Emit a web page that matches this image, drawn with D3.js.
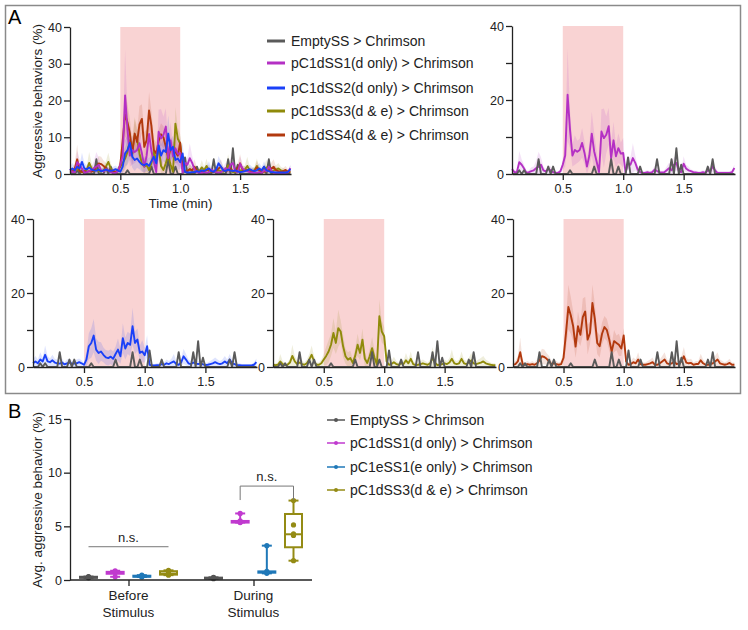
<!DOCTYPE html>
<html><head><meta charset="utf-8">
<script src="https://cdn.jsdelivr.net/npm/d3@7"></script>
<style>body{margin:0;background:#fff} svg{display:block;font-family:"Liberation Sans",Arial,Helvetica,sans-serif}</style>
</head><body><svg id="c" width="748" height="630"></svg>
<script>
// ---------- Panel A data (time in min, sampled every 0.02 min from 0.08) ----------
const tStart = 0.08, tStep = 0.02;
const xDomain = [0.08, 1.925];
const stimulus = [0.5, 1.0];
const yTicksA = [0, 10, 20, 30, 40];
const xTicksA = [0.5, 1.0, 1.5];

const namesA = ["EmptySS > Chrimson","pC1dSS1(d only) > Chrimson","pC1dSS2(d only) > Chrimson","pC1dSS3(d & e) > Chrimson","pC1dSS4(d & e) > Chrimson"];
const colorsA = ["#5a5a5a","#b430c4","#1a40f8","#8f8a0a","#b2390e"];

const emptySS = [0,0,0,1,0,1,0,0,0,0, 0,4,0,0,0,2,0,2,0,0, 0,0,0,0,1,0,0,0,0,0, 0,0,0,0,2,0,0,0,0,0,
 0,4,0,0,2,0,0,0,4.5,0, 0,0,0,2,0,0,0,0,0,0, 4,0,0,0,0,0,4,0,7,0, 2.5,0,0,0,0,0,0,0,0,0, 0,2,0,4,0,0,0,0,0,0, 0,0,0];
const dss1 = [1.3,0.5,0.5,3.2,2.5,1.5,0.3,0.5,0.8,1, 1.6,2,2.5,1,0.7,1.3,1,0.5,0.3,0.3, 0.7,2.5,5,21.4,12,5,6.5,6,6.5,8.4,
 5.7,2,5,10.9,6.1,3.4,0.5,11.5,9.7,10.6, 12.9,4.3,9.1,4.8,7,5.5,5.7,0.3,3,2.5, 4.3,3,1.2,0.5,0.3,0.3,0.5,0.3,0.5,1.2,
 0.8,0.5,0.4,0.5,1,1.6,1,2.5,3,0.8, 0.5,2.8,1.5,1,0.8,0.5,0.4,0.3,0.3,0.5, 0.3,1,0.8,2,1,0.3,0.3,0.3,0.3,0.3, 0.3,0.5,1.6];
const dss2 = [1,1.5,1,2,1.5,3.3,1.5,1.3,1.8,1.2, 1,0.9,1.2,0.7,1,1.2,0.9,0.9,1,1.3, 1,0.6,2,5.6,6.5,8.5,4.7,3.8,4.2,3.3,
 2.6,2.4,2.8,2.2,3.5,4.7,2.9,7.8,5,6.5, 6,11,6.5,7.4,3.8,4.2,3.2,5.6,0.6,0.4, 0.4,0.5,0.5,0.8,0.6,1,0.8,1.2,1.5,0.8,
 0.6,1.2,2.9,2,1,0.8,1.2,1,0.8,1, 0.7,0.5,0.6,0.8,1,1.3,1,0.8,1,1.5, 1,2,1,0.8,0.5,0.5,0.4,0.4,0.4,0.4, 0.4,0.6,1.3];
const dss3 = [0.6,0.5,0.6,1.5,0.8,0.5,0.6,1.2,3,1.5, 0.8,1.2,0.8,0.6,1,2,3.3,1.5,0.6,0.6, 1,2,3,4.2,6,9.2,6.5,10.5,9.6,5.6,
 2.9,2,2.4,1.1,3,6,3.8,7.4,2.2,1.1, 2.9,5.1,2.5,0.6,13.7,9.6,8.3,1.5,0.6,0.8, 1.3,0.8,0.6,1,0.8,1.8,1,2.2,0.8,0.5,
 0.6,0.8,1,0.8,0.6,1,2.4,1.2,0.5,0.6, 0.8,1,0.8,1.2,2.2,1,0.8,1,2.2,1, 0.8,1.2,1.8,1,0.8,1,1.2,1.5,1,0.8, 0.6,0.5,0.5];
const dss4 = [0.6,0.8,1.5,4,0.8,0.6,0.8,0.6,0.8,0.6, 1,1.8,2.9,2.7,2.2,1.5,0.8,1,0.8,0.6, 0.8,2.5,9,16.2,14,11,5.5,11,8.7,13.5,
 15,7.4,9.2,17.3,13,6.5,5.6,9,10.8,10, 7.4,4.2,7,6.5,6,5,8.5,1.5,0.6,0.8, 1.3,1,2,0.8,0.6,0.6,0.8,1,1.3,0.6,
 0.6,1,1.5,2,1,0.8,1,1.5,0.8,1, 1.5,2.9,1.2,1,1.1,0.6,0.8,0.8,1.8,1, 0.6,0.6,0.8,1,1.5,2,1,0.8,0.6,0.8, 1.1,0.6,0.6];

// SEM (error band half-widths)
const semEmpty = [];
const semDss1 = [1,0.5,0.5,3,1.5,1,0.5,0.5,1,1,2,4,2,1,0.5,1,1,0.5,0.5,0.5,0.5,
 1.5,3,12.5,5,3,4,3,3,4,3,2,3,6,5,3,1,6,8,5,5,4,5,3,4,3,4,
 0.5,1.5,2,4,2,1,0.5,0.5,0.5,0.5,0.5,0.5,1,1,0.5,0.5,0.5,1,1.5,1,2,2,1,0.5,2,1,1,0.5,0.5,0.5,0.5,0.5,0.5,0.5,1,1,1.5,1,0.5,0.5,0.5,0.5,0.5,0.5,0.5,1];
const semDss2 = [1,1.5,1,2,1,2.5,1.5,1,1.5,1,1,0.8,1,0.6,1,1,0.8,0.8,1,1,0.8,
 0.5,2,3.5,4,4.5,3,3,2.5,2,2,2,2,2,2,3,2,4,3,3,3,5,3,3,2,3,2,
 3,0.5,0.4,0.4,0.5,0.5,0.8,0.6,1,0.8,1,2,0.8,0.6,1,2,1.5,1,0.8,1,1,0.8,1,0.7,0.5,0.6,0.8,1,1.3,1,0.8,1,1.5,1,1.5,1,0.8,0.5,0.5,0.4,0.4,0.4,0.4,0.4,0.6,1];
const semDss3 = [0.6,0.5,0.6,2,0.8,0.5,0.6,1,3,1.5,1,2,1,0.6,1,1.5,2.5,1.5,0.6,0.6,1,
 1.5,2.5,3,3,4,3,5,3,3,2,2,2,1,2,3,2,3,2,1,2,3,2,0.6,4.5,3,2.5,
 1.5,0.6,0.8,1.5,0.8,0.6,1,0.8,2,1,2,0.8,0.5,0.6,0.8,1,0.8,0.6,1,3,1.2,0.5,0.6,0.8,1,0.8,1.2,2.5,1,0.8,1,2,1,0.8,1.2,2,1,0.8,1,1.2,1.5,1,0.8,0.6,0.5,0.5];
const semDss4 = [0.6,0.8,1.5,4,0.8,0.6,0.8,0.6,0.8,0.6,1,1.5,2,2,1.5,1.5,0.8,1,0.8,0.6,0.8,
 2,4,6,5,4,3,4,3,5,4,4,3,5,4,3,3,3,3,3,3,2,3,2,3,2,2,
 1.5,0.6,0.8,1.3,1,2,0.8,0.6,0.6,0.8,1,1.3,0.6,0.6,1,1.5,2,1,0.8,1,1.5,0.8,1,1.5,2.5,1.2,1,1.1,0.6,0.8,0.8,1.8,1,0.6,0.6,0.8,1,1.5,2,1,0.8,0.6,0.8,1.1,0.6,0.6];

// ---------- Panel B data ----------
const groupsB = ["Before|Stimulus","During|Stimulus"];
const namesB = ["EmptySS > Chrimson","pC1dSS1(d only) > Chrimson","pC1eSS1(e only) > Chrimson","pC1dSS3(d & e) > Chrimson"];
const colorsB = ["#555555","#c03acf","#1f78b8","#948b14"];
const boxMin = [[0.18,0.3,0.28,0.45],[0.12,5.35,0.62,1.8]];
const boxQ1  = [[0.2,0.58,0.3,0.5],[0.15,5.35,0.68,3.05]];
const boxMed = [[0.25,0.7,0.34,0.6],[0.18,5.42,0.75,4.26]];
const boxQ3  = [[0.3,0.76,0.4,0.82],[0.22,5.5,0.8,6.15]];
const boxMax = [[0.32,0.86,0.45,0.9],[0.25,6.2,3.2,7.4]];
const boxPts = [
  [[0.2,0.25,0.3,0.32],[0.3,0.7,0.75,0.86],[0.28,0.33,0.38,0.45],[0.45,0.55,0.65,0.8,0.9]],
  [[0.12,0.18,0.22,0.25],[5.35,5.4,5.5,6.2],[0.62,0.72,0.8,3.2],[1.8,4.15,4.3,5.13,7.4]]
];
const yTicksB = [0, 5, 10, 15];

// ---------- drawing ----------
const svg = d3.select("#c");
const FONT = 12.5;
const seriesA = [
  {v: emptySS, s: semEmpty, c: colorsA[0]},
  {v: dss1, s: semDss1, c: colorsA[1]},
  {v: dss2, s: semDss2, c: colorsA[2]},
  {v: dss3, s: semDss3, c: colorsA[3]},
  {v: dss4, s: semDss4, c: colorsA[4]}
];
const tOf = i => tStart + tStep * i;

// Panel A frame
svg.append("rect").attr("x",5.5).attr("y",5.5).attr("width",735).attr("height",388)
  .attr("fill","none").attr("stroke","#8a8a8a").attr("stroke-width",1.5);
svg.append("text").attr("x",8).attr("y",24).attr("font-size",20).text("A");
svg.append("text").attr("x",8).attr("y",418).attr("font-size",20).text("B");

const panels = [
  {x0:70, x1:291, yb:174, yt:27, order:[3,4,1,2], all:true, xlabel:true},
  {x0:512, x1:735, yb:174, yt:26, order:[1]},
  {x0:33, x1:257, yb:367, yt:219, order:[2]},
  {x0:273, x1:496, yb:367, yt:219, order:[3]},
  {x0:513, x1:735, yb:367, yt:219, order:[4]}
];

panels.forEach(p => {
  const x = d3.scaleLinear().domain(xDomain).range([p.x0, p.x1]);
  const y = d3.scaleLinear().domain([0, 40]).range([p.yb, p.yt]);
  const g = svg.append("g");
  g.append("rect").attr("x", x(stimulus[0])).attr("y", y(40))
    .attr("width", x(stimulus[1]) - x(stimulus[0])).attr("height", y(0) - y(40))
    .attr("fill", "#f9d3d3");
  const area = s => d3.area().x((d,i)=>x(tOf(i))).y0((d,i)=>y(Math.max(0, d - (s[i]||0)))).y1((d,i)=>y(d + (s[i]||0)));
  const line = d3.line().x((d,i)=>x(tOf(i))).y(d=>y(d));
  p.order.forEach(k => {
    const S = seriesA[k];
    g.append("path").datum(S.v).attr("d", area(S.s)).attr("fill", S.c).attr("opacity", 0.14);
  });
  const drawLine = k => {
    const S = seriesA[k];
    g.append("path").datum(S.v).attr("d", line).attr("fill","none")
      .attr("stroke", S.c).attr("stroke-width", 1.9).attr("stroke-linejoin","round");
  };
  if (p.all) { drawLine(0); p.order.forEach(drawLine); }
  else { p.order.forEach(drawLine); drawLine(0); }

  const ax = g.append("g").attr("transform", `translate(0,${p.yb})`)
    .call(d3.axisBottom(x).tickValues(xTicksA).tickFormat(d3.format(".1f")).tickSize(6).tickPadding(4).tickSizeOuter(0));
  const ay = g.append("g").attr("transform", `translate(${p.x0},0)`)
    .call(d3.axisLeft(y).tickValues(yTicksA).tickSize(6).tickPadding(2).tickSizeOuter(0)
      .tickFormat(d => p.all || d % 20 === 0 ? d : ""));
  [ax, ay].forEach(a => {
    a.selectAll("path,line").attr("stroke","#222").attr("stroke-width",1.3);
    a.selectAll("text").attr("fill","#222").attr("font-size",FONT).attr("font-family",null);
  });
  if (p.xlabel) {
    svg.append("text").attr("x", (p.x0 + p.x1)/2).attr("y", 208).attr("text-anchor","middle")
      .attr("font-size",13.5).attr("fill","#222").text("Time (min)");
  }
});
svg.append("text").attr("transform","translate(42,101) rotate(-90)").attr("text-anchor","middle")
  .attr("font-size",13.5).attr("fill","#222").text("Aggressive behaviors (%)");

// Legend A
namesA.forEach((n,i) => {
  const yy = [41,63,88,111,135][i];
  svg.append("line").attr("x1",267).attr("x2",285).attr("y1",yy).attr("y2",yy)
    .attr("stroke",colorsA[i]).attr("stroke-width",3);
  svg.append("text").attr("x",291).attr("y",yy+5).attr("font-size",14).attr("fill","#222").text(n);
});

// ---------- Panel B ----------
const xB = d3.scalePoint().domain(groupsB).range([70, 312]).padding(0.468);
const xIn = d3.scalePoint().domain(namesB).range([-40, 40]);
const yB = d3.scaleLinear().domain([0, 15]).range([580, 419]);
const gB = svg.append("g");
const bw = 17, cw = 10;
groupsB.forEach((grp, gi) => {
  namesB.forEach((nm, si) => {
    const cx = xB(grp) + xIn(nm), col = colorsB[si];
    const gg = gB.append("g").attr("stroke", col).attr("stroke-width", 2);
    gg.append("line").attr("x1",cx).attr("x2",cx).attr("y1",yB(boxMin[gi][si])).attr("y2",yB(boxQ1[gi][si]));
    gg.append("line").attr("x1",cx).attr("x2",cx).attr("y1",yB(boxQ3[gi][si])).attr("y2",yB(boxMax[gi][si]));
    gg.append("line").attr("x1",cx-cw/2).attr("x2",cx+cw/2).attr("y1",yB(boxMin[gi][si])).attr("y2",yB(boxMin[gi][si]));
    gg.append("line").attr("x1",cx-cw/2).attr("x2",cx+cw/2).attr("y1",yB(boxMax[gi][si])).attr("y2",yB(boxMax[gi][si]));
    gg.append("rect").attr("x",cx-bw/2).attr("y",yB(boxQ3[gi][si]))
      .attr("width",bw).attr("height",Math.max(1,yB(boxQ1[gi][si])-yB(boxQ3[gi][si]))).attr("fill","#fff");
    gg.append("line").attr("x1",cx-bw/2).attr("x2",cx+bw/2).attr("y1",yB(boxMed[gi][si])).attr("y2",yB(boxMed[gi][si]));
    boxPts[gi][si].forEach(v => {
      gB.append("circle").attr("cx",cx).attr("cy",yB(v)).attr("r",2.6).attr("fill",col);
    });
  });
});
// n.s. annotations
const c0a = xB(groupsB[0]) + xIn(namesB[0]), c0b = xB(groupsB[0]) + xIn(namesB[3]);
gB.append("line").attr("x1",c0a).attr("x2",c0b).attr("y1",yB(3.1)).attr("y2",yB(3.1))
  .attr("stroke","#777").attr("stroke-width",1);
gB.append("text").attr("x",(c0a+c0b)/2).attr("y",yB(3.55)).attr("text-anchor","middle")
  .attr("font-size",13).attr("fill","#222").text("n.s.");
const c1a = xB(groupsB[1]) + xIn(namesB[1]), c1b = xB(groupsB[1]) + xIn(namesB[3]);
gB.append("path").attr("d",`M${c1a},${yB(7.45)}V${yB(8.75)}H${c1b}V${yB(7.45)}`)
  .attr("fill","none").attr("stroke","#777").attr("stroke-width",1);
gB.append("text").attr("x",(c1a+c1b)/2).attr("y",yB(9.2)).attr("text-anchor","middle")
  .attr("font-size",13).attr("fill","#222").text("n.s.");

const axB = gB.append("g").attr("transform","translate(0,580)")
  .call(d3.axisBottom(xB).tickSize(6).tickSizeOuter(0).tickFormat(""));
axB.select(".domain").attr("d","M70,0H312");
const ayB = gB.append("g").attr("transform","translate(70,0)")
  .call(d3.axisLeft(yB).tickValues(yTicksB).tickSize(6).tickPadding(2).tickSizeOuter(0));
[axB, ayB].forEach(a => {
  a.selectAll("path,line").attr("stroke","#222").attr("stroke-width",1.3);
  a.selectAll("text").attr("fill","#222").attr("font-size",FONT).attr("font-family",null);
});
groupsB.forEach(grp => {
  grp.split("|").forEach((pt, k) => {
    gB.append("text").attr("x", xB(grp)).attr("y", 600 + k*17).attr("text-anchor","middle")
      .attr("font-size",13.5).attr("fill","#222").text(pt);
  });
});
svg.append("text").attr("transform","translate(42,500) rotate(-90)").attr("text-anchor","middle")
  .attr("font-size",13.5).attr("fill","#222").text("Avg. aggressive behavior (%)");

// Legend B
namesB.forEach((n,i) => {
  const yy = [420,443,467,490][i];
  svg.append("line").attr("x1",327).attr("x2",345).attr("y1",yy).attr("y2",yy)
    .attr("stroke",colorsB[i]).attr("stroke-width",1.5);
  svg.append("circle").attr("cx",336).attr("cy",yy).attr("r",2).attr("fill",colorsB[i]);
  svg.append("text").attr("x",350).attr("y",yy+5).attr("font-size",14).attr("fill","#222").text(n);
});
</script></body></html>
